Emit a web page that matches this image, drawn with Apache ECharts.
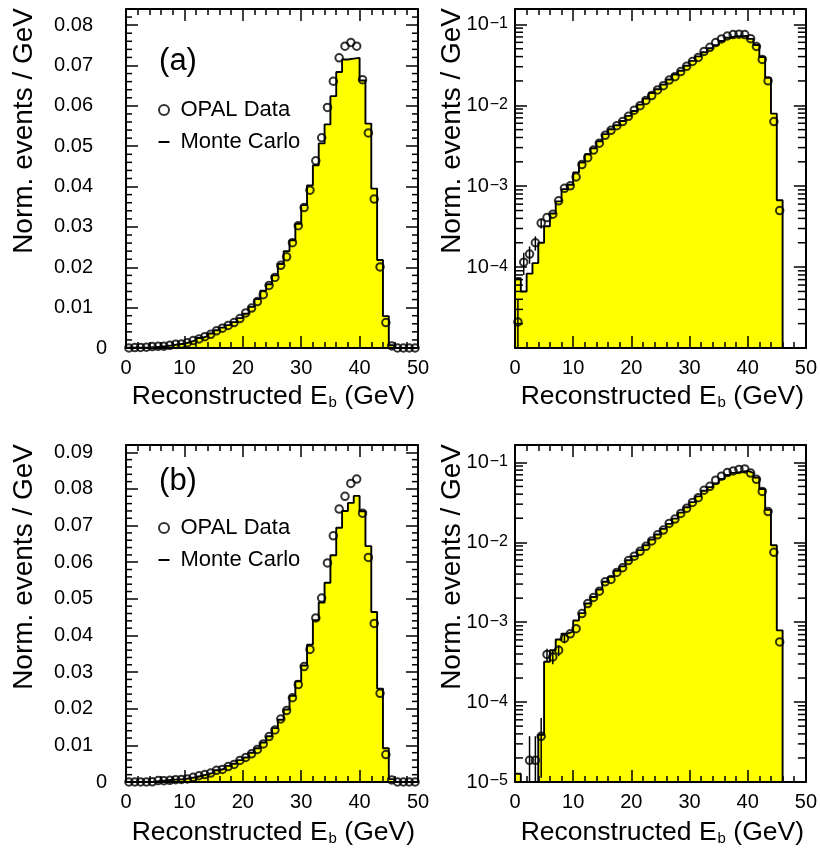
<!DOCTYPE html>
<html><head><meta charset="utf-8">
<script src="https://cdn.jsdelivr.net/npm/echarts@6/dist/echarts.min.js"></script>
<style>html,body{margin:0;padding:0;background:#fff}#c{width:820px;height:852px}</style>
</head><body><div id="c"></div>
<script>
// ---- data (bin centres, 1 GeV bins) ----
const binCenters = [0.5,1.5,2.5,3.5,4.5,5.5,6.5,7.5,8.5,9.5,10.5,11.5,12.5,13.5,14.5,15.5,16.5,17.5,18.5,19.5,
  20.5,21.5,22.5,23.5,24.5,25.5,26.5,27.5,28.5,29.5,30.5,31.5,32.5,33.5,34.5,35.5,36.5,37.5,38.5,39.5,
  40.5,41.5,42.5,43.5,44.5,45.5,46.5,47.5,48.5,49.5];
// (a) OPAL data
const dataA = [2.1e-5,1.15e-4,1.45e-4,2.0e-4,3.5e-4,4.1e-4,4.5e-4,6.6e-4,9.4e-4,1.01e-3,
  1.3e-3,1.85e-3,2.25e-3,2.8e-3,3.4e-3,4.25e-3,4.9e-3,5.6e-3,6.3e-3,7.3e-3,
  8.7e-3,0.0099,0.0115,0.0132,0.0155,0.0175,0.0205,0.0226,0.0261,0.0303,
  0.0348,0.0391,0.0464,0.0521,0.0596,0.0661,0.0719,0.0748,0.0757,0.0748,
  0.0665,0.0533,0.0369,0.0201,0.0063,5.0e-4,0,0,0,0];
const errA = [1.9e-5,3.5e-5,3.5e-5,4e-5,5e-5,0,0,0,0,0, 0,0,0,0,0,0,0,0,0,0, 0,0,0,0,0,0,0,0,0,0, 0,0,0,0,0,0,0,0,0,0, 0,0,0,0,0,0,0,0,0,0];
// (a) Monte Carlo
const mcA = [7.3e-5,5.0e-5,8.3e-5,1.12e-4,2.0e-4,3.2e-4,4.6e-4,6.5e-4,9.2e-4,1.04e-3,
  1.48e-3,1.96e-3,2.48e-3,2.94e-3,3.6e-3,4.4e-3,5.06e-3,5.66e-3,6.4e-3,7.4e-3,
  8.5e-3,0.0102,0.0121,0.0142,0.0158,0.0180,0.0208,0.0240,0.0267,0.0308,
  0.0354,0.0403,0.0453,0.0507,0.0554,0.0624,0.0684,0.0715,0.0717,0.0719,
  0.0663,0.0556,0.0395,0.0218,0.0079,6.7e-4,0,0,0,0];
// (b) OPAL data
const dataB = [0,0,1.87e-5,1.87e-5,3.73e-5,3.95e-4,3.68e-4,4.46e-4,6.25e-4,7.15e-4,
  8.3e-4,1.28e-3,1.71e-3,2.04e-3,2.44e-3,3.2e-3,3.43e-3,4.2e-3,4.8e-3,5.9e-3,
  6.7e-3,7.7e-3,8.9e-3,0.0104,0.0124,0.0142,0.0172,0.0195,0.0230,0.0266,
  0.0315,0.0362,0.0448,0.0502,0.0598,0.0672,0.0745,0.0780,0.0815,0.0827,
  0.0734,0.0613,0.0433,0.0242,0.0075,5.66e-4,0,0,0,0];
const errB = [0,0,1.87e-5,1.87e-5,2.6e-5,7e-5,7e-5,7e-5,8e-5,0, 0,0,0,0,0,0,0,0,0,0, 0,0,0,0,0,0,0,0,0,0, 0,0,0,0,0,0,0,0,0,0, 0,0,0,0,0,0,0,0,0,0];
// (b) Monte Carlo
const mcB = [1.27e-5,0,0,0,3.9e-5,3.2e-4,4.46e-4,6.07e-4,7.2e-4,7.6e-4,
  1.05e-3,1.3e-3,1.71e-3,2.07e-3,2.57e-3,3.2e-3,3.69e-3,4.4e-3,5.0e-3,5.97e-3,
  6.7e-3,7.98e-3,9.2e-3,0.0108,0.0125,0.0147,0.0170,0.0198,0.0235,0.0275,
  0.0318,0.0375,0.0442,0.0490,0.0544,0.0619,0.0694,0.0740,0.0762,0.0781,
  0.0739,0.0644,0.0464,0.0255,0.0092,7.9e-4,0,0,0,0];

const FONT = '"Liberation Sans", Arial, Helvetica, sans-serif';
const BLACK = '#000';
const YELLOW = '#ffff00';

const panels = [
  {grid:{left:126,top:9,width:292,height:339}, log:false, ymin:0, ymax:0.084, data:dataA, mc:mcA, err:errA, showMin:true},
  {grid:{left:515,top:9,width:291,height:339}, log:true, ymin:1e-5, ymax:0.155, data:dataA, mc:mcA, err:errA, showMin:false},
  {grid:{left:126,top:445,width:292,height:337}, log:false, ymin:0, ymax:0.092, data:dataB, mc:mcB, err:errB, showMin:true},
  {grid:{left:515,top:445,width:291,height:337}, log:true, ymin:1e-5, ymax:0.165, data:dataB, mc:mcB, err:errB, showMin:true}
];

function minorTickValues(p){
  const out = [];
  if (p.log){
    for (let k=-5;k<=-1;k++) for (let m=2;m<=9;m++){ const v=m*Math.pow(10,k); if (v>p.ymin && v<p.ymax) out.push([0,v]); }
  } else {
    for (let i=1;i*0.002<p.ymax-1e-9;i++){ if (i%5!==0) out.push([0,i*0.002]); }
  }
  return out;
}

const grids=[], xAxes=[], yAxes=[], series=[];
panels.forEach((p,g)=>{
  grids.push(Object.assign({containLabel:false}, p.grid));
  const xBase = {type:'value', gridIndex:g, min:0, max:50, interval:10, z:10,
    axisLine:{show:true,onZero:false,lineStyle:{color:BLACK,width:2}},
    axisTick:{show:true,inside:true,length:12,lineStyle:{color:BLACK,width:1.5}},
    minorTick:{show:true,splitNumber:5,length:6,lineStyle:{color:BLACK,width:1.5}},
    splitLine:{show:false}, minorSplitLine:{show:false}};
  xAxes.push(Object.assign({}, xBase, {position:'bottom',
    axisLabel:{show:true,color:BLACK,fontSize:20,fontFamily:FONT,margin:10}}));
  xAxes.push(Object.assign({}, xBase, {position:'top', axisLabel:{show:false}}));
  const yBase = {gridIndex:g, min:p.ymin, max:p.ymax, z:10,
    axisLine:{show:true,onZero:false,lineStyle:{color:BLACK,width:2}},
    axisTick:{show:true,inside:true,length:12,lineStyle:{color:BLACK,width:1.5}},
    splitLine:{show:false}};
  if (p.log){ yBase.type='log'; yBase.logBase=10; }
  else { yBase.type='value'; yBase.interval=0.01; }
  let lab;
  if (p.log){
    lab = {show:true, margin:7, showMaxLabel:false, showMinLabel:p.showMin, color:BLACK, fontFamily:FONT,
      formatter:(v)=>{ const e=Math.round(Math.log10(v)); return '{b|10}{e|\u2212'+(-e)+'}'; },
      rich:{b:{fontSize:20,fontFamily:FONT,color:BLACK,lineHeight:20,padding:[10,0,10,0]},
            e:{fontSize:16,fontFamily:FONT,color:BLACK,lineHeight:16,verticalAlign:'top',padding:[1,0,0,1]}}};
  } else {
    lab = {show:true, margin:19, showMaxLabel:false, color:BLACK, fontFamily:FONT, fontSize:20,
      formatter:(v)=> v===0 ? '0' : '{p|'+v.toFixed(2)+'}',
      rich:{p:{fontSize:20,fontFamily:FONT,color:BLACK,padding:[0,14,0,0]}}};
  }
  yAxes.push(Object.assign({}, yBase, {position:'left', axisLabel:lab}));
  yAxes.push(Object.assign({}, yBase, {position:'right', axisLabel:{show:false}}));

  // Monte Carlo histogram (step line, left bin edges + closing edge)
  const edges = binCenters.map(c=>c-0.5);
  const mcVals = p.log ? p.mc.map(v=>Math.max(v,p.ymin)) : p.mc;
  const mcData = edges.map((e,i)=>[e, mcVals[i]]);
  mcData.push([binCenters[binCenters.length-1]+0.5, mcVals[mcVals.length-1]]);
  series.push({name:'Monte Carlo', type:'line', step:'end', xAxisIndex:2*g, yAxisIndex:2*g,
    symbol:'none', data:mcData, clip:true, z:2, silent:true,
    lineStyle:{color:BLACK,width:1.9}, itemStyle:{color:BLACK},
    areaStyle:{color:YELLOW,opacity:1,origin:'start'}});
  // error bars
  const errData = binCenters.map((x,i)=>[x,p.data[i],p.err[i]]).filter(d=>d[2]>0 && (!p.log || d[1]>0));
  const ymin = p.ymin;
  series.push({type:'custom', xAxisIndex:2*g, yAxisIndex:2*g, data:errData, z:4, silent:true, clip:true,
    renderItem:(params,api)=>{
      const x=api.value(0), v=api.value(1), e=api.value(2);
      const lo = Math.max(v-e, ymin>0?ymin:0);
      const p1 = api.coord([x,lo]), p2 = api.coord([x,v+e]);
      return {type:'line', shape:{x1:p1[0],y1:p1[1],x2:p2[0],y2:p2[1]}, style:{stroke:BLACK,lineWidth:1.5}};
    }});
  // data points
  const ptData = binCenters.map((x,i)=>[x,p.data[i]]).filter(d=>!p.log || d[1]>0);
  series.push({name:'OPAL Data', type:'scatter', xAxisIndex:2*g, yAxisIndex:2*g, data:ptData, z:5,
    symbol:'circle', symbolSize:7.5, clip:true, silent:true,
    itemStyle:{color:'rgba(0,0,0,0)', borderColor:BLACK, borderWidth:2}});
  // minor y ticks (left and right frame)
  series.push({type:'custom', xAxisIndex:2*g, yAxisIndex:2*g, data:minorTickValues(p), z:11, silent:true,
    renderItem:(params,api)=>{
      const cs = params.coordSys;
      const y = api.coord([0, api.value(1)])[1];
      const L = p.log ? 8 : 6;
      return {type:'group', children:[
        {type:'line', shape:{x1:cs.x,y1:y,x2:cs.x+L,y2:y}, style:{stroke:BLACK,lineWidth:1.5}},
        {type:'line', shape:{x1:cs.x+cs.width,y1:y,x2:cs.x+cs.width-L,y2:y}, style:{stroke:BLACK,lineWidth:1.5}}
      ]};
    }});
});

const legendBase = {orient:'vertical', itemWidth:11, itemHeight:10, itemGap:10, selectedMode:false, padding:0,
  textStyle:{fontSize:22, fontFamily:FONT, color:BLACK, padding:[0,0,0,6]},
  data:[{name:'OPAL Data', icon:'circle', itemStyle:{color:'rgba(0,0,0,0)', borderColor:BLACK, borderWidth:2}},
        {name:'Monte Carlo', icon:'path://M0,0M0,4L11,4L11,6L0,6ZM11,10', itemStyle:{color:BLACK, borderWidth:0}}]};
const legends = [Object.assign({}, legendBase, {left:158, top:99}),
                 Object.assign({}, legendBase, {left:158, top:517})];

const xTitle = 'Reconstructed E{s|b} (GeV)';
const yTitle = 'Norm. events / GeV';
const titleRich = {s:{fontSize:15, fontFamily:FONT, fill:BLACK, lineHeight:15, padding:[12,0,0,1], verticalAlign:'bottom'}};
function xt(x,y){ return {type:'text', x:x, y:y, style:{text:xTitle, rich:titleRich, font:'26.5px '+FONT, fill:BLACK, align:'right', verticalAlign:'middle', lineHeight:27}}; }
function yt(x,y){ return {type:'text', x:x, y:y, rotation:Math.PI/2, style:{text:yTitle, font:'28px '+FONT, fill:BLACK, align:'right', verticalAlign:'middle'}}; }
function pl(t,x,y){ return {type:'text', x:x, y:y, style:{text:t, font:'31px '+FONT, fill:BLACK, align:'center', verticalAlign:'middle'}}; }

const option = {
  animation:false, backgroundColor:'#fff',
  grid:grids, xAxis:xAxes, yAxis:yAxes, series:series, legend:legends,
  graphic:[xt(415,397), xt(804,397), xt(415,833), xt(804,833),
           yt(24,8), yt(452,8), yt(24,444), yt(452,444),
           pl('(a)',178,61), pl('(b)',178,481)]
};
const chart = echarts.init(document.getElementById('c'), null, {renderer:'canvas'});
chart.setOption(option);
</script></body></html>
